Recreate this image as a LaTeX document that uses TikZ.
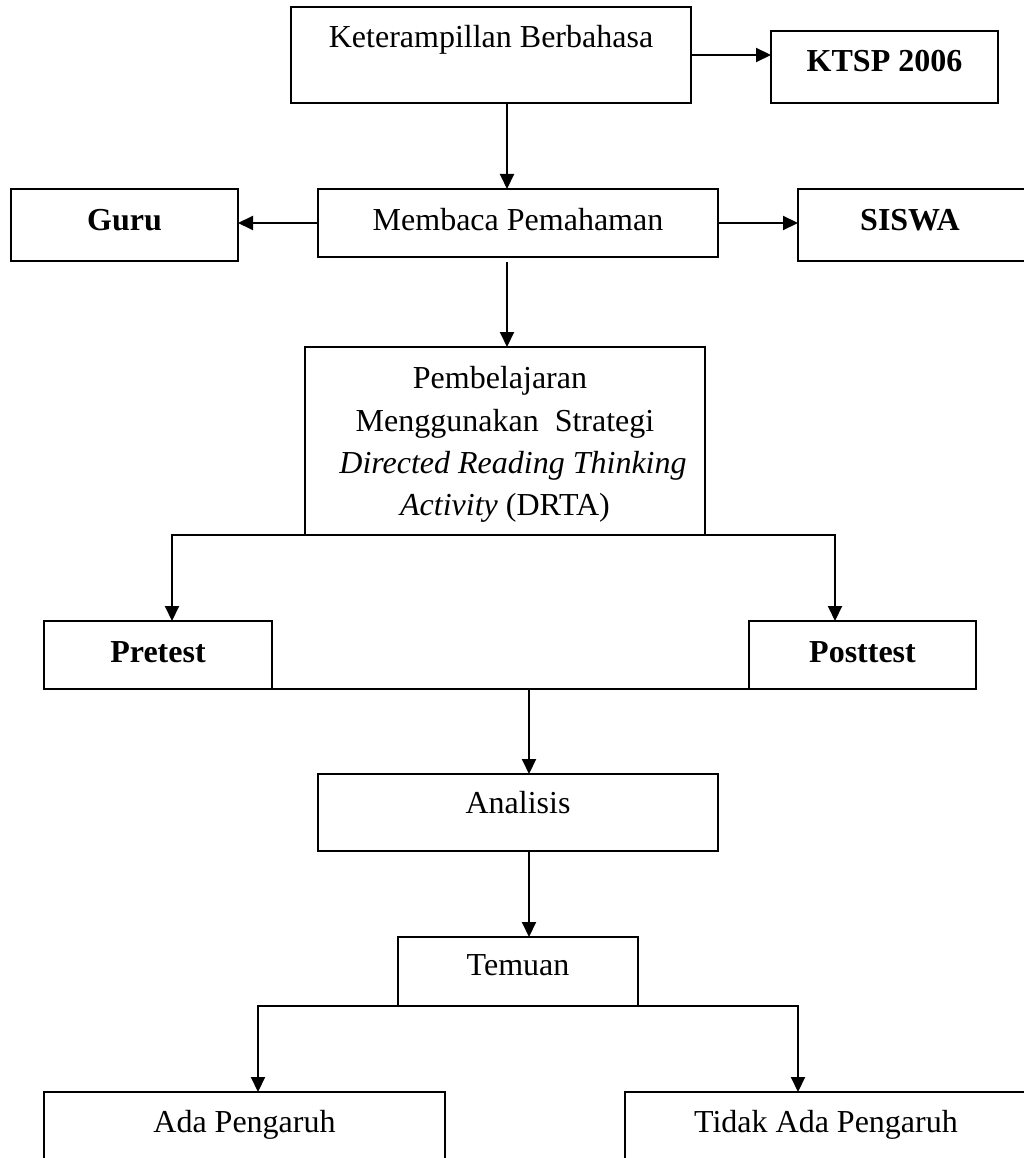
\documentclass[tikz,border=0pt]{standalone}
\usepackage{fontspec}
\setmainfont{Liberation Serif}
\usetikzlibrary{arrows.meta}
\begin{document}
\begin{tikzpicture}[x=1pt,y=-1pt,
  font=\fontsize{32}{42.3}\selectfont,
  box/.style={draw,line width=1.8pt,inner sep=0pt,outer sep=0pt},
  txt/.style={anchor=base,inner sep=0pt},
  btxt/.style={anchor=base,inner sep=0pt,font=\fontsize{32}{42.3}\selectfont\bfseries},
  arr/.style={line width=2pt,-{Triangle[length=15pt,width=14pt]}},
  ln/.style={line width=2pt}]
\useasboundingbox (0,0) rectangle (1024,1158);
\clip (0,0) rectangle (1024,1158);
\fill[white] (0,0) rectangle (1024,1158);
% boxes
\node[box,minimum width=400pt,minimum height=96pt] (kb) at (491,55) {};
\node[box,minimum width=227pt,minimum height=72pt] (ktsp) at (884.5,67) {};
\node[box,minimum width=227pt,minimum height=72pt] (guru) at (124.5,225) {};
\node[box,minimum width=400pt,minimum height=68pt] (mp) at (518,223) {};
\node[box,minimum width=242pt,minimum height=72pt] (siswa) at (919,225) {};
\node[box,minimum width=400pt,minimum height=188pt] (pb) at (505,441) {};
\node[box,minimum width=228pt,minimum height=68pt] (pre) at (158,655) {};
\node[box,minimum width=227pt,minimum height=68pt] (post) at (862.5,655) {};
\node[box,minimum width=400pt,minimum height=77pt] (an) at (518,812.5) {};
\node[box,minimum width=240pt,minimum height=69pt] (tem) at (518,971.5) {};
\node[box,minimum width=401pt,minimum height=88pt] (ada) at (244.5,1136) {};
\node[box,minimum width=405pt,minimum height=88pt] (tidak) at (827.5,1136) {};
% texts
\node[txt] (kbt) at (491,48) {Keterampillan Berbahasa};
\node[btxt] (ktspt) at (884.5,72) {KTSP 2006};
\node[btxt] (gurut) at (124.5,231) {Guru};
\node[txt] (mpt) at (518,231) {Membaca Pemahaman};
\node[btxt] (siswat) at (910,231) {SISWA};
\node[txt] (pbt1) at (500,388) {Pembelajaran};
\node[txt] (pbt2) at (505,431) {Menggunakan\ \ Strategi};
\node[txt] (pbt3) at (513,473) {\itshape Directed Reading Thinking};
\node[txt] (pbt4) at (505,515) {\textit{Activity} (DRTA)};
\node[btxt] (pret) at (158,662) {Pretest};
\node[btxt] (postt) at (862.5,662) {Posttest};
\node[txt] (ant) at (518,813) {Analisis};
\node[txt] (temt) at (518,975) {Temuan};
\node[txt] (adat) at (244.5,1132) {Ada Pengaruh};
\node[txt] (tidakt) at (826,1132) {Tidak Ada Pengaruh};
% connectors
\draw[arr] (kb.east) -- (kb.east -| ktsp.west);
\draw[arr] ([xshift=16pt]kb.south) -- ([xshift=16pt]kb.south |- mp.north);
\draw[arr] (mp.west) -- (mp.west -| guru.east);
\draw[arr] (mp.east) -- (mp.east -| siswa.west);
\draw[arr] ([xshift=-11pt,yshift=-5pt]mp.south) -- ([xshift=-11pt]mp.south |- pb.north);
\draw[arr] (pb.south) -| ([xshift=14pt]pre.north);
\draw[arr] (pb.south) -| ([xshift=-27.5pt]post.north);
\draw[ln] (pre.south east) -- (post.south west);
\coordinate (j1) at ([xshift=11pt]an.north);
\draw[arr] (pre.south east -| j1) -- (j1);
\draw[arr] ([xshift=11pt]an.south) -- ([xshift=11pt]an.south |- tem.north);
\draw[arr] (tem.south) -| ([xshift=13.5pt]ada.north);
\draw[arr] (tem.south) -| ([xshift=-29.5pt]tidak.north);
\end{tikzpicture}
\end{document}
